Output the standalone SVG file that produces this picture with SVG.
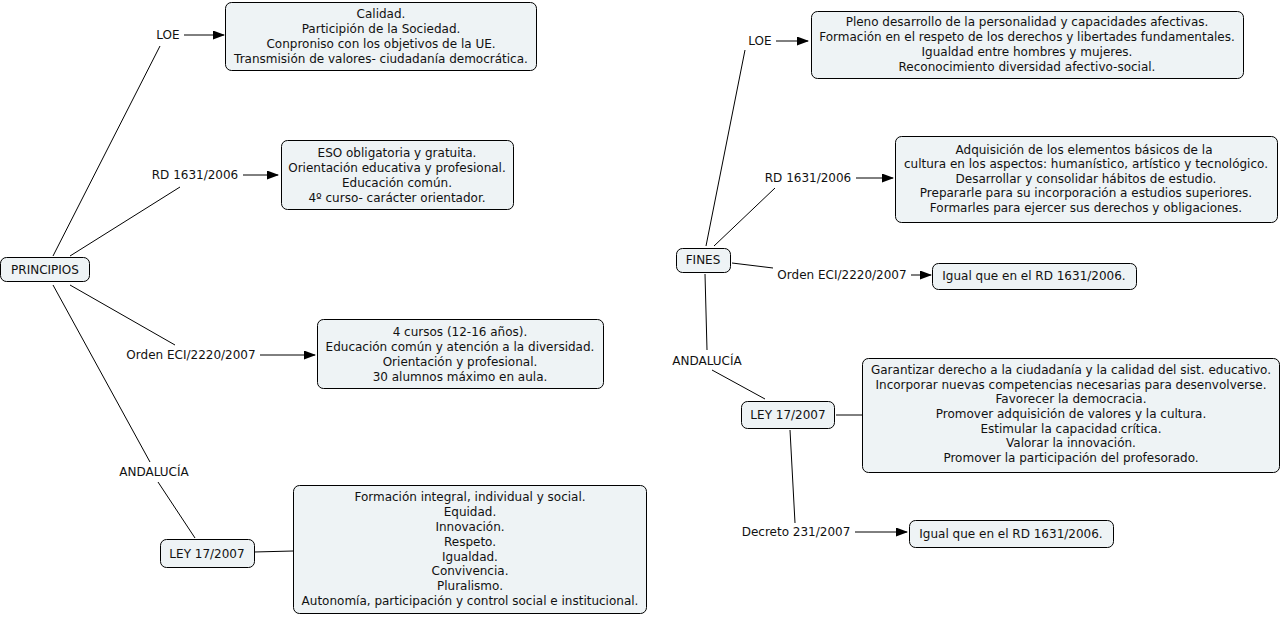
<svg xmlns="http://www.w3.org/2000/svg" width="1282" height="617" viewBox="0 0 1282 617">
<style>
text{font-family:"DejaVu Sans",Verdana,sans-serif;font-size:12px;fill:#111}
.box{fill:#eef3f5;stroke:#000;stroke-width:1}
.c{text-anchor:middle}
.ln{stroke:#000;stroke-width:1;fill:none}
</style>
<defs>
<marker id="ah" markerWidth="12" markerHeight="10" refX="11" refY="4.5" orient="auto" markerUnits="userSpaceOnUse">
<path d="M0,0 L12,4.5 L0,9 Z" fill="#000"/>
</marker>
</defs>
<rect width="1282" height="617" fill="#fff"/>
<g id="connectors">
<line class="ln" x1="53" y1="256" x2="160" y2="46"/>
<line class="ln" x1="70" y1="256" x2="180" y2="187"/>
<line class="ln" x1="70" y1="285" x2="175" y2="345"/>
<line class="ln" x1="53" y1="285" x2="150" y2="462"/>
<line class="ln" x1="158" y1="482" x2="195" y2="538"/>
<line class="ln" x1="184" y1="35" x2="224" y2="35" marker-end="url(#ah)"/>
<line class="ln" x1="243" y1="175" x2="278" y2="175" marker-end="url(#ah)"/>
<line class="ln" x1="260" y1="355" x2="315" y2="355" marker-end="url(#ah)"/>
<line class="ln" x1="254" y1="552" x2="293" y2="551"/>
<line class="ln" x1="706" y1="246" x2="745" y2="50"/>
<line class="ln" x1="714" y1="246" x2="775" y2="188"/>
<line class="ln" x1="732" y1="263" x2="773" y2="268"/>
<line class="ln" x1="705" y1="274" x2="707" y2="350"/>
<line class="ln" x1="712" y1="370" x2="765" y2="399"/>
<line class="ln" x1="790" y1="430" x2="795" y2="523"/>
<line class="ln" x1="776" y1="41" x2="808" y2="41" marker-end="url(#ah)"/>
<line class="ln" x1="856" y1="178" x2="893" y2="178" marker-end="url(#ah)"/>
<line class="ln" x1="911" y1="275" x2="931" y2="275" marker-end="url(#ah)"/>
<line class="ln" x1="836" y1="415" x2="862" y2="415"/>
<line class="ln" x1="855" y1="532" x2="907" y2="532" marker-end="url(#ah)"/>
</g>
<g id="principios"><rect class="box" x="0.5" y="257.5" width="89" height="24" rx="6"/><text class="c" x="45" y="274">PRINCIPIOS</text></g>
<g id="lbl-loe-l"><text class="c" x="168" y="39">LOE</text></g>
<g id="box-loe-l"><rect class="box" x="225.5" y="2.5" width="311" height="68" rx="6"/>
<text class="c" x="381" y="18">Calidad.</text>
<text class="c" x="381" y="33">Participión de la Sociedad.</text>
<text class="c" x="381" y="48">Conproniso con los objetivos de la UE.</text>
<text class="c" x="381" y="63">Transmisión de valores- ciudadanía democrática.</text></g>
<g id="lbl-rd-l"><text class="c" x="195" y="179">RD 1631/2006</text></g>
<g id="box-rd-l"><rect class="box" x="281.5" y="140.5" width="232" height="69" rx="6"/>
<text class="c" x="397" y="157">ESO obligatoria y gratuita.</text>
<text class="c" x="397" y="172">Orientación educativa y profesional.</text>
<text class="c" x="397" y="187">Educación común.</text>
<text class="c" x="397" y="202">4º curso- carácter orientador.</text></g>
<g id="lbl-orden-l"><text class="c" x="191" y="359">Orden ECI/2220/2007</text></g>
<g id="box-orden-l"><rect class="box" x="317.5" y="319.5" width="286" height="69" rx="6"/>
<text class="c" x="460" y="336">4 cursos (12-16 años).</text>
<text class="c" x="460" y="351">Educación común y atención a la diversidad.</text>
<text class="c" x="460" y="366">Orientación y profesional.</text>
<text class="c" x="460" y="381">30 alumnos máximo en aula.</text></g>
<g id="lbl-and-l"><text class="c" x="154" y="476">ANDALUCÍA</text></g>
<g id="ley-l"><rect class="box" x="160.5" y="539.5" width="94" height="28" rx="6"/><text class="c" x="207" y="558">LEY 17/2007</text></g>
<g id="box-ley-l"><rect class="box" x="293.5" y="485.5" width="353" height="128" rx="6"/>
<text class="c" x="470" y="501">Formación integral, individual y social.</text>
<text class="c" x="470" y="516">Equidad.</text>
<text class="c" x="470" y="531">Innovación.</text>
<text class="c" x="470" y="546">Respeto.</text>
<text class="c" x="470" y="561">Igualdad.</text>
<text class="c" x="470" y="575">Convivencia.</text>
<text class="c" x="470" y="590">Pluralismo.</text>
<text class="c" x="470" y="605">Autonomía, participación y control social e institucional.</text></g>
<g id="fines"><rect class="box" x="676.5" y="248.5" width="54" height="24" rx="6"/><text class="c" x="703" y="264">FINES</text></g>
<g id="lbl-loe-r"><text class="c" x="760" y="45">LOE</text></g>
<g id="box-loe-r"><rect class="box" x="811.5" y="11.5" width="432" height="67" rx="6"/>
<text class="c" x="1027" y="26">Pleno desarrollo de la personalidad y capacidades afectivas.</text>
<text class="c" x="1027" y="41">Formación en el respeto de los derechos y libertades fundamentales.</text>
<text class="c" x="1027" y="56">Igualdad entre hombres y mujeres.</text>
<text class="c" x="1027" y="71">Reconocimiento diversidad afectivo-social.</text></g>
<g id="lbl-rd-r"><text class="c" x="808" y="182">RD 1631/2006</text></g>
<g id="box-rd-r"><rect class="box" x="895.5" y="136.5" width="382" height="86" rx="6"/>
<text class="c" x="1084" y="154">Adquisición de los elementos básicos de la</text>
<text class="c" x="1086" y="168">cultura en los aspectos: humanístico, artístico y tecnológico.</text>
<text class="c" x="1086" y="183">Desarrollar y consolidar hábitos de estudio.</text>
<text class="c" x="1086" y="197">Prepararle para su incorporación a estudios superiores.</text>
<text class="c" x="1086" y="212">Formarles para ejercer sus derechos y obligaciones.</text></g>
<g id="lbl-orden-r"><text class="c" x="842" y="279">Orden ECI/2220/2007</text></g>
<g id="box-orden-r"><rect class="box" x="932.5" y="263.5" width="204" height="26" rx="6"/><text class="c" x="1034" y="280">Igual que en el RD 1631/2006.</text></g>
<g id="lbl-and-r"><text class="c" x="707" y="365">ANDALUCÍA</text></g>
<g id="ley-r"><rect class="box" x="741.5" y="401.5" width="93" height="27" rx="6"/><text class="c" x="788" y="419">LEY 17/2007</text></g>
<g id="box-ley-r"><rect class="box" x="862.5" y="358.5" width="417" height="114" rx="6"/>
<text class="c" x="1071" y="374">Garantizar derecho a la ciudadanía y la calidad del sist. educativo.</text>
<text class="c" x="1071" y="389">Incorporar nuevas competencias necesarias para desenvolverse.</text>
<text class="c" x="1071" y="403">Favorecer la democracia.</text>
<text class="c" x="1071" y="418">Promover adquisición de valores y la cultura.</text>
<text class="c" x="1071" y="433">Estimular la capacidad crítica.</text>
<text class="c" x="1071" y="447">Valorar la innovación.</text>
<text class="c" x="1071" y="462">Promover la participación del profesorado.</text></g>
<g id="lbl-decreto"><text class="c" x="796" y="536">Decreto 231/2007</text></g>
<g id="box-decreto"><rect class="box" x="909.5" y="520.5" width="204" height="27" rx="6"/><text class="c" x="1011" y="538">Igual que en el RD 1631/2006.</text></g>
</svg>
